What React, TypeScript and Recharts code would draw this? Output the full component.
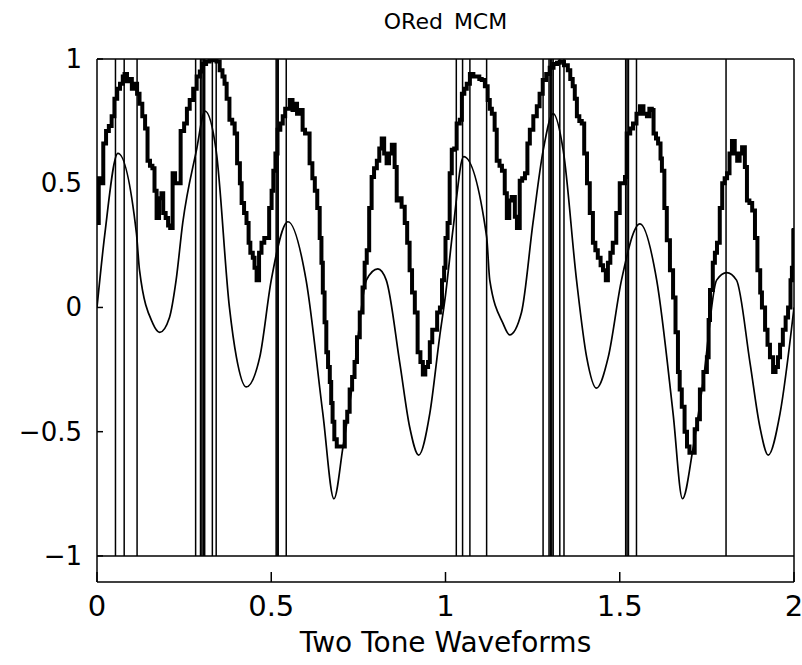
import { ComposedChart, Line, ReferenceLine, XAxis, YAxis } from "recharts";

// thin two-tone waveform (peaks, troughs and a few readings between)
const toneX = [
  0, 0.022, 0.06, 0.113, 0.122, 0.16, 0.18, 0.208, 0.227, 0.246, 0.285, 0.31, 0.342, 0.38, 0.4, 0.428,
  0.467, 0.5, 0.548, 0.6, 0.648, 0.68, 0.706, 0.735, 0.773, 0.806, 0.83, 0.869, 0.897, 0.923, 0.955,
  0.983, 1.0, 1.022, 1.052, 1.118, 1.127, 1.165, 1.184, 1.218, 1.251, 1.28, 1.309, 1.338, 1.376, 1.405,
  1.433, 1.467, 1.505, 1.558, 1.606, 1.653, 1.68, 1.711, 1.74, 1.778, 1.807, 1.835, 1.874, 1.902, 1.926,
  1.96, 2.0,
];
const toneY = [
  0.0, 0.29, 0.62, 0.3, 0.15, -0.064, -0.1, -0.04, 0.11, 0.34, 0.63, 0.79, 0.63, 0.0, -0.2, -0.32,
  -0.2, 0.11, 0.345, 0.11, -0.426, -0.77, -0.56, -0.29, 0.11, 0.155, 0.11, -0.225, -0.48, -0.594, -0.426,
  -0.12, 0.05, 0.32, 0.607, 0.285, 0.11, -0.064, -0.11, -0.02, 0.34, 0.63, 0.78, 0.63, 0.11, -0.2,
  -0.325, -0.2, 0.11, 0.336, 0.11, -0.426, -0.77, -0.56, -0.29, 0.11, 0.14, 0.11, -0.225, -0.48, -0.594,
  -0.426, 0.0,
];

// thick ORed MCM staircase
const mcmX = [
  0, 0.005, 0.012, 0.018, 0.026, 0.034, 0.042, 0.05, 0.058, 0.066, 0.074, 0.079, 0.086, 0.093, 0.1, 0.107,
  0.115, 0.122, 0.13, 0.138, 0.145, 0.152, 0.159, 0.165, 0.171, 0.178, 0.185, 0.19, 0.197, 0.204, 0.21,
  0.217, 0.224, 0.231, 0.24, 0.25, 0.258, 0.266, 0.276, 0.286, 0.295, 0.303, 0.313, 0.323, 0.333, 0.343,
  0.352, 0.36, 0.366, 0.372, 0.38, 0.388, 0.395, 0.402, 0.41, 0.415, 0.422, 0.429, 0.435, 0.44, 0.447,
  0.452, 0.458, 0.465, 0.472, 0.48, 0.487, 0.494, 0.501, 0.506, 0.512, 0.518, 0.526, 0.533, 0.54, 0.546,
  0.553, 0.561, 0.568, 0.574, 0.581, 0.59, 0.597, 0.604, 0.61, 0.618, 0.625, 0.632, 0.639, 0.644, 0.648,
  0.653, 0.658, 0.663, 0.668, 0.672, 0.676, 0.681, 0.688, 0.696, 0.704, 0.711, 0.718, 0.725, 0.732, 0.739,
  0.746, 0.754, 0.762, 0.768, 0.774, 0.781, 0.788, 0.795, 0.803, 0.81, 0.817, 0.824, 0.831, 0.838, 0.846,
  0.854, 0.86, 0.867, 0.874, 0.883, 0.89, 0.897, 0.904, 0.912, 0.92, 0.928, 0.935, 0.942, 0.95, 0.955,
  0.962, 0.969, 0.976, 0.984, 0.99, 0.996,
  1.0, 1.006, 1.012, 1.018, 1.025, 1.032, 1.041, 1.047, 1.054, 1.061, 1.07, 1.08, 1.09, 1.097, 1.104,
  1.113, 1.121, 1.127, 1.133, 1.141, 1.147, 1.155, 1.162, 1.17, 1.176, 1.183, 1.19, 1.199, 1.205, 1.213,
  1.22, 1.228, 1.235, 1.242, 1.252, 1.262, 1.27, 1.279, 1.289, 1.299, 1.31, 1.32, 1.328, 1.34, 1.351,
  1.358, 1.365, 1.371, 1.377, 1.384, 1.391, 1.398, 1.406, 1.414, 1.423, 1.43, 1.437, 1.445, 1.452, 1.46,
  1.466, 1.473, 1.48, 1.49, 1.5, 1.508, 1.515, 1.52, 1.53, 1.538, 1.548, 1.558, 1.568, 1.578, 1.585,
  1.592, 1.597, 1.604, 1.61, 1.617, 1.621, 1.628, 1.635, 1.644, 1.653, 1.66, 1.667, 1.672, 1.678, 1.686,
  1.693, 1.7, 1.707, 1.715, 1.722, 1.73, 1.74, 1.75, 1.755, 1.759, 1.767, 1.773, 1.779, 1.787, 1.794,
  1.801, 1.808, 1.815, 1.822, 1.83, 1.837, 1.844, 1.851, 1.859, 1.865, 1.872, 1.88, 1.888, 1.895, 1.903,
  1.908, 1.917, 1.924, 1.931, 1.94, 1.947, 1.954, 1.96, 1.968, 1.976, 1.983, 1.99, 1.994, 1.998, 2.0,
];
const mcmY = [
  0.34, 0.52, 0.5, 0.66, 0.71, 0.73, 0.77, 0.84, 0.88, 0.9, 0.93, 0.94, 0.91, 0.92, 0.88, 0.9,
  0.86, 0.82, 0.77, 0.72, 0.59, 0.57, 0.56, 0.47, 0.36, 0.44, 0.46, 0.38, 0.36, 0.33, 0.32,
  0.54, 0.5, 0.5, 0.71, 0.74, 0.8, 0.835, 0.88, 0.93, 0.95, 0.98, 0.99, 0.995, 1.0, 0.99,
  0.955, 0.93, 0.9, 0.84, 0.755, 0.74, 0.7, 0.58, 0.5, 0.42, 0.38, 0.34, 0.26, 0.22, 0.2,
  0.16, 0.11, 0.22, 0.26, 0.28, 0.28, 0.4, 0.47, 0.55, 0.62, 0.715, 0.74, 0.77, 0.8, 0.8,
  0.835, 0.795, 0.82, 0.78, 0.795, 0.715, 0.7, 0.7, 0.58, 0.52, 0.47, 0.4, 0.28, 0.18, 0.06,
  -0.06, -0.18, -0.24, -0.3, -0.385, -0.46, -0.53, -0.56, -0.56, -0.56, -0.46, -0.42, -0.33, -0.28, -0.22,
  -0.12, -0.02, 0.08, 0.18, 0.23, 0.4, 0.525, 0.56, 0.59, 0.64, 0.68, 0.62, 0.58, 0.62, 0.655,
  0.565, 0.43, 0.44, 0.405, 0.34, 0.26, 0.15, 0.06, -0.02, -0.18, -0.22, -0.27, -0.24, -0.22, -0.14,
  -0.09, -0.09, -0.02, 0.0, 0.11, 0.16,
  0.28, 0.34, 0.54, 0.635, 0.64, 0.74, 0.755, 0.86, 0.88, 0.9, 0.94, 0.93, 0.93, 0.92, 0.915,
  0.89, 0.835, 0.8, 0.78, 0.715, 0.59, 0.57, 0.55, 0.46, 0.36, 0.43, 0.445, 0.365, 0.32, 0.51,
  0.52, 0.54, 0.66, 0.715, 0.77, 0.81, 0.86, 0.915, 0.94, 0.965, 0.98, 0.985, 0.99, 0.975, 0.955,
  0.92, 0.89, 0.84, 0.77, 0.75, 0.74, 0.62, 0.5, 0.38, 0.26, 0.23, 0.2, 0.17, 0.15, 0.11,
  0.18, 0.22, 0.26, 0.38, 0.5, 0.5, 0.525, 0.7, 0.72, 0.74, 0.78, 0.81, 0.78, 0.77, 0.8,
  0.795, 0.7, 0.68, 0.66, 0.6, 0.55, 0.4, 0.27, 0.15, 0.04, -0.1, -0.26, -0.33, -0.4, -0.5,
  -0.56, -0.585, -0.585, -0.49, -0.45, -0.33, -0.26, -0.2, -0.05, 0.07, 0.18, 0.22, 0.26, 0.4, 0.5,
  0.52, 0.54, 0.62, 0.67, 0.62, 0.59, 0.62, 0.645, 0.565, 0.43, 0.42, 0.39, 0.28, 0.15, 0.06,
  0.0, -0.09, -0.15, -0.2, -0.26, -0.24, -0.2, -0.15, -0.09, -0.04, 0.0, 0.11, 0.16, 0.31, 0.32,
];

// OR event markers (vertical lines from -1 to 1)
const orTimes = [
  0.053, 0.078, 0.115, 0.283, 0.297, 0.301, 0.305, 0.309, 0.331, 0.342, 0.514, 0.517, 0.52, 0.543,
  1.031, 1.049, 1.07, 1.118, 1.28, 1.297, 1.301, 1.305, 1.309, 1.328, 1.34, 1.517, 1.521, 1.525, 1.548,
  1.805,
];

const xTicks = [0, 0.5, 1, 1.5, 2];
const yTicks = [-1, -0.5, 0, 0.5, 1];

const toneData = toneX.map((x, i) => ({ x, y: toneY[i] }));
const mcmData = mcmX.map((x, i) => ({ x, y: mcmY[i] }));

const FONT = "'DejaVu Sans', sans-serif";
const fmt = (v: number) => (v < 0 ? "\u2212" + String(-v) : String(v));

function XTick({ x, y, payload }: any) {
  return (
    <g>
      <line x1={x} y1={y} x2={x} y2={y - 10} stroke="#000" strokeWidth={1.5} />
      <text x={x} y={y + 34} textAnchor="middle" fontSize={29} fontFamily={FONT} fill="#000">
        {fmt(payload.value)}
      </text>
    </g>
  );
}

function YTick({ x, y, payload }: any) {
  return (
    <g>
      <line x1={x} y1={y} x2={x + 6} y2={y} stroke="#000" strokeWidth={1.5} />
      <text x={x - 15} y={y + 9} textAnchor="end" fontSize={26} fontFamily={FONT} fill="#000">
        {fmt(payload.value)}
      </text>
    </g>
  );
}

export default function App() {
  return (
    <div style={{ position: "absolute", left: 0, top: 0, width: 802, height: 665, background: "#fff" }}>
      <div
        style={{
          position: "absolute",
          top: 9,
          left: 97,
          width: 697,
          textAlign: "center",
          fontFamily: FONT,
          fontSize: 22,
          wordSpacing: 4,
        }}
      >
        ORed MCM
      </div>
      <ComposedChart width={802} height={665} margin={{ top: 59, right: 8, bottom: 8, left: 7 }}>
        <XAxis
          type="number"
          dataKey="x"
          domain={[0, 2]}
          ticks={xTicks}
          height={75}
          tickSize={0}
          tickMargin={0}
          tick={<XTick />}
          axisLine={{ stroke: "#000", strokeWidth: 1.5 }}
          allowDataOverflow
        />
        <YAxis
          type="number"
          domain={[-1.105, 1]}
          ticks={yTicks}
          width={90}
          tickSize={0}
          tickMargin={0}
          tick={<YTick />}
          axisLine={{ stroke: "#000", strokeWidth: 1.5 }}
          allowDataOverflow
        />
        <ReferenceLine y={1} stroke="#000" strokeWidth={1.5} />
        <ReferenceLine x={2} stroke="#000" strokeWidth={1.5} />
        <ReferenceLine y={-1} stroke="#000" strokeWidth={1.5} />
        {orTimes.map((t, i) => (
          <ReferenceLine
            key={i}
            segment={[
              { x: t, y: -1 },
              { x: t, y: 1 },
            ]}
            stroke="#000"
            strokeWidth={1.5}
          />
        ))}
        <Line
          data={toneData}
          dataKey="y"
          type="monotone"
          stroke="#000"
          strokeWidth={1.7}
          dot={false}
          isAnimationActive={false}
        />
        <Line
          data={mcmData}
          dataKey="y"
          type="stepAfter"
          stroke="#000"
          strokeWidth={4}
          dot={false}
          isAnimationActive={false}
        />
      </ComposedChart>
      <div
        style={{
          position: "absolute",
          top: 626,
          left: 97,
          width: 697,
          textAlign: "center",
          fontFamily: FONT,
          fontSize: 28,
        }}
      >
        Two Tone Waveforms
      </div>
    </div>
  );
}
